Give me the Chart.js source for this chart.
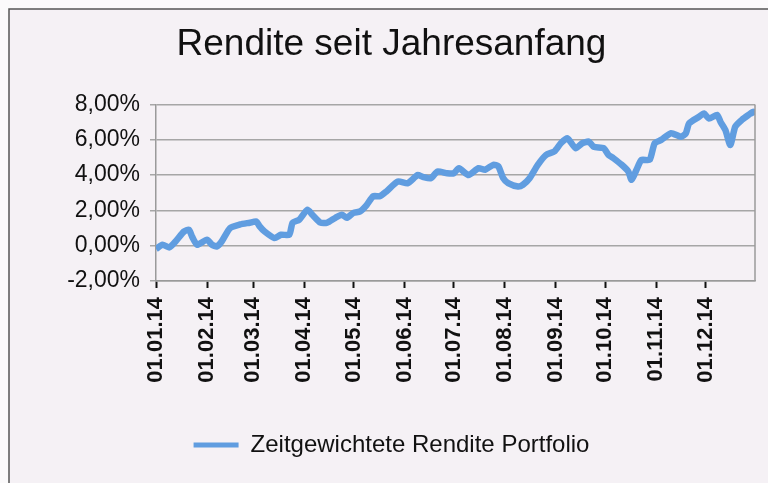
<!DOCTYPE html>
<html>
<head>
<meta charset="utf-8">
<script src="https://cdn.jsdelivr.net/npm/chart.js@4.4.1/dist/chart.umd.min.js"></script>
<style>
  html, body { margin: 0; padding: 0; background: #fbfafb; }
  #wrap { position: relative; width: 768px; height: 483px; }
</style>
</head>
<body>
<div id="wrap"><canvas id="c" width="768" height="483"></canvas></div>
<script>
// Day of year 2014 (0 = 01.01.14) and year-to-date return in %
const dayOfYear = [0,4,8,12,17,20,22,25,31,34,37,40,45,51,57,61,63,66,72,76,81,83,87,92,95,100,104,109,113,116,120,124,128,132,136,140,147,153,159,162,167,171,177,181,184,190,196,200,205,208,211,214,220,223,227,232,237,242,246,250,255,259,263,266,272,275,278,283,287,289,292,295,300,303,307,313,319,322,324,330,333,336,341,343,346,349,352,356,360,363,364];
const returnPct = [-0.19,0.06,-0.1,0.25,0.8,0.9,0.5,0.05,0.34,0.05,-0.04,0.25,1.0,1.2,1.3,1.37,1.09,0.8,0.43,0.62,0.62,1.3,1.47,2.03,1.75,1.3,1.3,1.58,1.75,1.58,1.86,1.94,2.3,2.8,2.8,3.07,3.63,3.54,4.0,3.9,3.82,4.2,4.1,4.1,4.39,4.0,4.39,4.3,4.58,4.5,3.82,3.54,3.35,3.45,3.82,4.58,5.14,5.33,5.8,6.08,5.52,5.8,5.89,5.6,5.52,5.14,4.95,4.58,4.2,3.73,4.3,4.86,4.86,5.8,5.99,6.37,6.17,6.37,6.93,7.3,7.49,7.2,7.4,7.02,6.55,5.7,6.74,7.12,7.4,7.59,7.4];
const monthStartDays = [0,31,59,90,120,151,181,212,243,273,304,334];
const monthTickLabels = ["01.01.14","01.02.14","01.03.14","01.04.14","01.05.14","01.06.14","01.07.14","01.08.14","01.09.14","01.10.14","01.11.14","01.12.14"];
const yTicks = [-2,0,2,4,6,8];
const seriesName = "Zeitgewichtete Rendite Portfolio";
const chartTitle = "Rendite seit Jahresanfang";

const FONT = "'Liberation Sans', Arial, sans-serif";
const LINE = "rgb(96,157,224)";

const framePlugin = {
  id: 'frame',
  beforeDraw(chart) {
    const ctx = chart.ctx;
    ctx.save();
    ctx.fillStyle = '#f5f1f5';
    ctx.fillRect(9, 9, 768, 483);
    ctx.strokeStyle = '#555';
    ctx.lineWidth = 1.5;
    ctx.beginPath();
    ctx.moveTo(9, 483); ctx.lineTo(9, 9); ctx.lineTo(768, 9);
    ctx.stroke();
    ctx.restore();
  },
  afterDatasetsDraw(chart) {
    const a = chart.chartArea, ctx = chart.ctx;
    ctx.save();
    ctx.strokeStyle = '#9a9a9a';
    ctx.lineWidth = 1.5;
    ctx.beginPath();
    ctx.moveTo(a.right, a.top); ctx.lineTo(a.right, a.bottom);
    ctx.stroke();
    ctx.restore();
  }
};

new Chart(document.getElementById('c'), {
  type: 'line',
  data: {
    datasets: [{
      label: seriesName,
      data: dayOfYear.map((d, i) => ({ x: d, y: returnPct[i] })),
      borderColor: LINE,
      backgroundColor: LINE,
      borderWidth: 6.5,
      pointRadius: 0,
      tension: 0.2,
      fill: false
    }]
  },
  options: {
    responsive: false,
    animation: false,
    layout: { padding: { top: 0, right: 13, bottom: 16, left: 28 } },
    plugins: {
      title: {
        display: true,
        text: chartTitle,
        color: '#111',
        font: { family: FONT, size: 37, weight: 'normal' },
        padding: { top: 23, bottom: 37 }
      },
      legend: {
        position: 'bottom',
        labels: {
          color: '#111',
          font: { family: FONT, size: 24 },
          boxWidth: 45,
          boxHeight: 5,
          padding: 10,
          generateLabels(chart) {
            const l = Chart.defaults.plugins.legend.labels.generateLabels(chart);
            l.forEach(it => { it.lineWidth = 0; it.fillStyle = LINE; });
            return l;
          }
        }
      },
      tooltip: { enabled: false }
    },
    scales: {
      x: {
        type: 'linear',
        min: 0,
        max: 364,
        afterBuildTicks(scale) { scale.ticks = monthStartDays.map(v => ({ value: v })); },
        afterFit(scale) { scale.height = 142; },
        ticks: {
          autoSkip: false,
          minRotation: 90,
          maxRotation: 90,
          padding: 9,
          color: '#111',
          font: { family: FONT, size: 22, weight: 'bold' },
          callback(v) { const i = monthStartDays.indexOf(v); return i >= 0 ? monthTickLabels[i] : ''; }
        },
        grid: { drawOnChartArea: false, drawTicks: true, tickLength: 7, color: '#111', tickWidth: 2 },
        border: { color: '#9a9a9a', width: 1.5 }
      },
      y: {
        min: -2,
        max: 8,
        afterBuildTicks(scale) { scale.ticks = yTicks.map(v => ({ value: v })); },
        afterFit(scale) { scale.width = 128; },
        ticks: {
          padding: 10,
          color: '#111',
          font: { family: FONT, size: 23 },
          callback(v) { return v.toFixed(2).replace('.', ',') + '%'; }
        },
        grid: { color: '#a6a6a6', lineWidth: 1.5, tickLength: 6 },
        border: { color: '#9a9a9a', width: 1.5 }
      }
    }
  },
  plugins: [framePlugin]
});
</script>
</body>
</html>
